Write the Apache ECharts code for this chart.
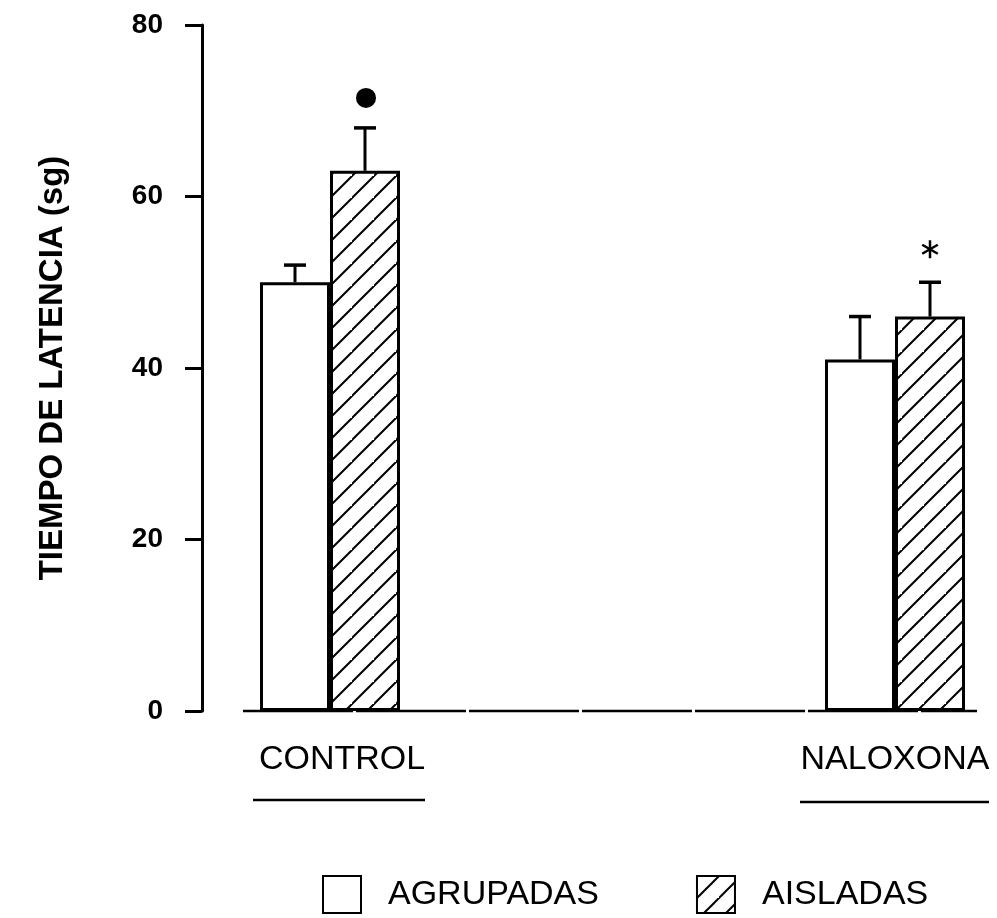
<!DOCTYPE html>
<html>
<head>
<meta charset="utf-8">
<script src="https://cdn.jsdelivr.net/npm/echarts@6/dist/echarts.min.js"></script>
<style>
  html, body { margin: 0; padding: 0; background: #fff; }
  #chart { width: 997px; height: 918px; }
</style>
</head>
<body>
<div id="chart"></div>
<script>
// Latency time (s) per treatment and housing condition
const categories = ['CONTROL', 'NALOXONA'];
const groupNames = ['AGRUPADAS', 'AISLADAS'];
const agrupadas = [50, 41];
const aisladas = [63, 46];
const agrupadasErr = [2, 5];
const aisladasErr = [5, 4];
const aisladasMarks = ['dot', 'star'];
const yMin = 0, yMax = 80, yStep = 20;
const yTitle = 'TIEMPO DE LATENCIA (sg)';

const FONT = "'Liberation Sans', Arial, Helvetica, sans-serif";
const BAR_W = 70;

// diagonal "/" hatch tile
function hatchTile() {
  const s = 22;
  const c = document.createElement('canvas');
  c.width = s; c.height = s;
  const g = c.getContext('2d');
  g.fillStyle = '#fff';
  g.fillRect(0, 0, s, s);
  g.strokeStyle = '#000';
  g.lineWidth = 2;
  g.beginPath();
  g.moveTo(-s, 2 * s); g.lineTo(2 * s, -s);
  g.moveTo(-2 * s, 2 * s); g.lineTo(s, -s);
  g.moveTo(0, 3 * s); g.lineTo(3 * s, 0);
  g.stroke();
  return c;
}
const hatch = { image: hatchTile(), repeat: 'repeat' };

function errorBars(vals, errs, marks, dx) {
  return function (params, api) {
    const i = params.dataIndex;
    const base = api.coord([api.value(0), api.value(1)]);
    const top = api.coord([api.value(0), api.value(2)]);
    const x = base[0] + dx;
    const children = [
      { type: 'line', shape: { x1: x, y1: base[1], x2: x, y2: top[1] },
        style: { stroke: '#000', lineWidth: 3 } },
      { type: 'line', shape: { x1: x - 11, y1: top[1], x2: x + 11, y2: top[1] },
        style: { stroke: '#000', lineWidth: 3.5 } }
    ];
    const m = marks && marks[i];
    if (m === 'dot') {
      children.push({ type: 'circle', shape: { cx: x + 1, cy: top[1] - 30, r: 10 },
        style: { fill: '#000' } });
    } else if (m === 'star') {
      const cy = top[1] - 33, r = 9;
      for (let k = 0; k < 3; k++) {
        const a = Math.PI / 2 + k * Math.PI / 3;
        children.push({ type: 'line',
          shape: { x1: x - r * Math.cos(a), y1: cy - r * Math.sin(a),
                   x2: x + r * Math.cos(a), y2: cy + r * Math.sin(a) },
          style: { stroke: '#000', lineWidth: 2.5 } });
      }
    }
    return { type: 'group', children: children };
  };
}

const chart = echarts.init(document.getElementById('chart'), null, { renderer: 'canvas' });

chart.setOption({
  backgroundColor: '#fff',
  animation: false,
  grid: { left: 330, right: 102, top: 25, bottom: 207 },
  legend: {
    data: groupNames,
    left: 317, top: 870,
    itemWidth: 38, itemHeight: 37, itemGap: 97,
    icon: 'rect',
    selectedMode: false,
    textStyle: { fontFamily: FONT, fontSize: 34, color: '#000', padding: [0, 0, 0, 22] }
  },
  xAxis: {
    type: 'category',
    data: [
      { value: categories[0], textStyle: { padding: [0, 0, 0, 24] } },
      categories[1]
    ],
    boundaryGap: false,
    axisLine: { show: false },
    axisTick: { show: false },
    axisLabel: { fontFamily: FONT, fontSize: 34, color: '#000', margin: 32 }
  },
  yAxis: {
    type: 'value',
    min: yMin, max: yMax, interval: yStep,
    offset: 128,
    name: yTitle,
    nameLocation: 'middle',
    nameGap: 133,
    nameTextStyle: { fontFamily: FONT, fontSize: 33, fontWeight: 'bold', color: '#000' },
    splitLine: { show: false },
    axisLine: { show: true, lineStyle: { color: '#000', width: 3 } },
    axisTick: { show: true, length: 17, lineStyle: { color: '#000', width: 3 } },
    axisLabel: { fontFamily: FONT, fontSize: 28, fontWeight: 'bold', color: '#000', margin: 39 }
  },
  series: [
    {
      name: groupNames[0], type: 'bar', data: agrupadas,
      barWidth: BAR_W, barGap: '0%', clip: false,
      itemStyle: { color: '#fff', borderColor: '#000', borderWidth: 3 }
    },
    {
      name: groupNames[1], type: 'bar', data: aisladas,
      barWidth: BAR_W, barGap: '0%', clip: false,
      itemStyle: { color: hatch, borderColor: '#000', borderWidth: 3 }
    },
    {
      type: 'custom', clip: false, z: 5,
      data: categories.map((c, i) => [i, agrupadas[i], agrupadas[i] + agrupadasErr[i]]),
      renderItem: errorBars(agrupadas, agrupadasErr, null, -BAR_W / 2)
    },
    {
      type: 'custom', clip: false, z: 5,
      data: categories.map((c, i) => [i, aisladas[i], aisladas[i] + aisladasErr[i]]),
      renderItem: errorBars(aisladas, aisladasErr, aisladasMarks, BAR_W / 2)
    }
  ],
  graphic: [
    // baseline along zero
    { type: 'line', z: 10, shape: { x1: 243, y1: 711, x2: 977, y2: 711 },
      style: { stroke: '#000', lineWidth: 2.5, lineDash: [110, 3] } },
    // underlines below the group labels
    { type: 'line', shape: { x1: 253, y1: 800, x2: 425, y2: 800 },
      style: { stroke: '#000', lineWidth: 2.5 } },
    { type: 'line', shape: { x1: 800, y1: 802, x2: 989, y2: 802 },
      style: { stroke: '#000', lineWidth: 2.5 } }
  ]
});
</script>
</body>
</html>
